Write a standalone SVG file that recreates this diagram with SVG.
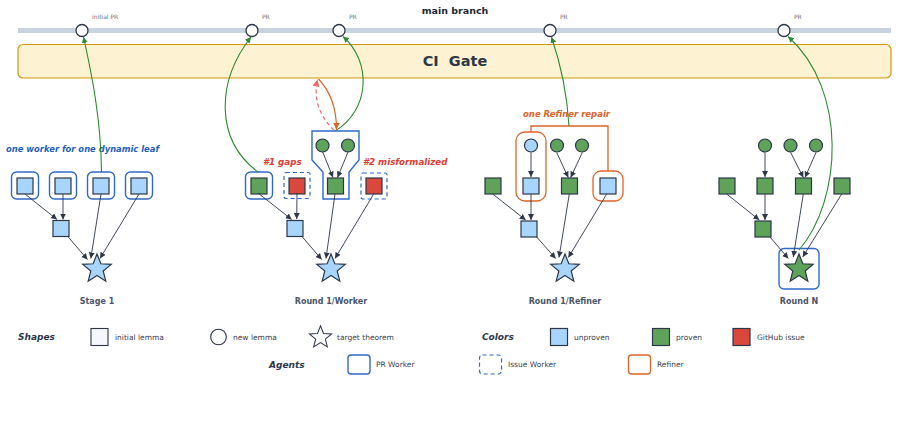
<svg xmlns="http://www.w3.org/2000/svg" xmlns:xlink="http://www.w3.org/1999/xlink" width="899" height="433" viewBox="0 0 899 433">
<style>
text{font-family:"DejaVu Sans","Liberation Sans",sans-serif;}
.sq{stroke:#2d3748;stroke-width:1.2;}
.un{fill:#a8d5fb;}
.pr{fill:#5fa35a;}
.is{fill:#d9473d;}
.nd{stroke:#2d3748;stroke-width:1.2;}
.pw{fill:none;stroke:#2f6ac8;stroke-width:1.4;}
.iw{fill:none;stroke:#2f6ac8;stroke-width:1.2;stroke-dasharray:4 3;}
.rf{fill:none;stroke:#e0632a;stroke-width:1.3;}
.ed{fill:none;stroke:#2d3748;stroke-width:0.9;marker-end:url(#ah);}
.gr{fill:none;stroke:#2e8b2e;stroke-width:1.1;marker-end:url(#ag);}
.cap{font-size:8px;font-weight:bold;fill:#4a5568;text-anchor:middle;}
.lg{font-size:7.5px;fill:#3a4150;}
.lh{font-size:9px;font-weight:bold;font-style:italic;fill:#2d3748;}
.pl{font-size:6px;fill:#6b7280;}
</style>
<defs>
<marker id="ah" markerUnits="userSpaceOnUse" markerWidth="7" markerHeight="7" refX="6" refY="3" orient="auto"><path d="M0,0 L6,3 L0,6 z" fill="#2d3748"/></marker>
<marker id="ag" markerUnits="userSpaceOnUse" markerWidth="7" markerHeight="7" refX="6" refY="3" orient="auto"><path d="M0,0 L6,3 L0,6 z" fill="#2e8b2e"/></marker>
<marker id="ao" markerUnits="userSpaceOnUse" markerWidth="8" markerHeight="8" refX="7" refY="3.5" orient="auto"><path d="M0,0 L7,3.5 L0,7 z" fill="#e0632a"/></marker>
<marker id="ar" markerUnits="userSpaceOnUse" markerWidth="8" markerHeight="8" refX="7" refY="3.5" orient="auto"><path d="M0,0 L7,3.5 L0,7 z" fill="#ec6a6a"/></marker>
<polygon id="star" points="0,-15 3.82,-5.26 14.27,-4.64 6.18,2.01 8.82,12.14 0,6.5 -8.82,12.14 -6.18,2.01 -14.27,-4.64 -3.82,-5.26"/>
</defs>

<!-- main branch -->
<g id="main-branch">
<text x="455" y="14" font-size="9.5" font-weight="bold" fill="#1f2937" text-anchor="middle">main branch</text>
<rect x="18" y="28" width="873" height="5" fill="#c9d3df"/>
</g>
<g id="commit-initial"><circle cx="82" cy="30.5" r="6" fill="#fff" stroke="#2d3748" stroke-width="1.3"/><text class="pl" x="92" y="19">initial PR</text></g>
<g id="commit-2"><circle cx="252" cy="30.5" r="6" fill="#fff" stroke="#2d3748" stroke-width="1.3"/><text class="pl" x="262" y="19">PR</text></g>
<g id="commit-3"><circle cx="339" cy="30.5" r="6" fill="#fff" stroke="#2d3748" stroke-width="1.3"/><text class="pl" x="349" y="19">PR</text></g>
<g id="commit-4"><circle cx="550" cy="30.5" r="6" fill="#fff" stroke="#2d3748" stroke-width="1.3"/><text class="pl" x="560" y="19">PR</text></g>
<g id="commit-5"><circle cx="784" cy="30.5" r="6" fill="#fff" stroke="#2d3748" stroke-width="1.3"/><text class="pl" x="794" y="19">PR</text></g>

<!-- CI gate -->
<g id="ci-gate">
<rect x="18" y="44.5" width="873" height="33.5" rx="5" fill="#fdf2d2" stroke="#d4960f" stroke-width="1.2"/>
<text x="455" y="66" font-size="14.5" font-weight="bold" fill="#2d3748" text-anchor="middle" xml:space="preserve">CI  Gate</text>
</g>

<!-- ===== Stage 1 ===== -->
<g id="stage1">
<text x="6" y="152" font-size="8.4" font-weight="bold" font-style="italic" fill="#1f5fbf">one worker for one dynamic leaf</text>
<g id="s1-l1"><rect class="pw" x="11.5" y="172" width="27" height="27" rx="5"/><rect class="sq un" x="17" y="178" width="16" height="16"/></g>
<g id="s1-l2"><rect class="pw" x="49.5" y="172" width="27" height="27" rx="5"/><rect class="sq un" x="55" y="178" width="16" height="16"/></g>
<g id="s1-l3"><rect class="pw" x="87.5" y="172" width="27" height="27" rx="5"/><rect class="sq un" x="93" y="178" width="16" height="16"/></g>
<g id="s1-l4"><rect class="pw" x="125.5" y="172" width="27" height="27" rx="5"/><rect class="sq un" x="131" y="178" width="16" height="16"/></g>
<g id="s1-mid"><rect class="sq un" x="53" y="220.5" width="16" height="16"/></g>
<g id="s1-star"><use href="#star" x="97" y="269" class="nd un"/></g>
<text class="cap" x="97" y="304">Stage 1</text>
</g>

<!-- ===== Round 1 / Worker ===== -->
<g id="round1-worker">
<text x="263" y="165" font-size="8.7" font-weight="bold" font-style="italic" fill="#dc3b34">#1 gaps</text>
<text x="363" y="165" font-size="8.7" font-weight="bold" font-style="italic" fill="#dc3b34">#2 misformalized</text>
<g id="w-a"><rect class="pw" x="245.5" y="172" width="27" height="27" rx="5"/><rect class="sq pr" x="251" y="178" width="16" height="16"/></g>
<g id="w-b"><rect class="iw" x="284" y="172.5" width="26" height="26" rx="2"/><rect class="sq is" x="289" y="178" width="16" height="16"/></g>
<g id="w-c">
<polygon class="pw" points="312,131 359,131 359,160 349,172 349,199 323,199 323,172 312,160"/>
<circle class="nd pr" cx="322.5" cy="145.5" r="6.5"/>
<circle class="nd pr" cx="348" cy="145.5" r="6.5"/>
<rect class="sq pr" x="327.5" y="178" width="16" height="16"/>
</g>
<g id="w-d"><rect class="iw" x="361" y="173" width="26" height="26" rx="2"/><rect class="sq is" x="366" y="178" width="16" height="16"/></g>
<g id="w-mid"><rect class="sq un" x="287" y="220.5" width="16" height="16"/></g>
<g id="w-star"><use href="#star" x="331" y="269" class="nd un"/></g>
<text class="cap" x="331" y="304">Round 1/Worker</text>
</g>

<!-- ===== Round 1 / Refiner ===== -->
<g id="round1-refiner">
<text x="523" y="117" font-size="8.5" font-weight="bold" font-style="italic" fill="#e0632a">one Refiner repair</text>
<path class="rf" d="M531,132 V126 H608 V171"/>
<g id="r-a"><rect class="rf" x="516" y="132" width="30" height="69" rx="9"/><circle class="nd un" cx="531" cy="145.5" r="6.5"/><rect class="sq un" x="523" y="178" width="16" height="16"/></g>
<circle class="nd pr" cx="557" cy="145.5" r="6.5"/>
<circle class="nd pr" cx="582" cy="145.5" r="6.5"/>
<g id="r-b"><rect class="sq pr" x="561.5" y="178" width="16" height="16"/></g>
<g id="r-c"><rect class="sq pr" x="485" y="178" width="16" height="16"/></g>
<g id="r-d"><rect class="rf" x="593" y="171" width="30" height="30" rx="8"/><rect class="sq un" x="600" y="178" width="16" height="16"/></g>
<g id="r-mid"><rect class="sq un" x="521" y="221" width="16" height="16"/></g>
<g id="r-star"><use href="#star" x="565" y="269" class="nd un"/></g>
<text class="cap" x="565" y="304">Round 1/Refiner</text>
</g>

<!-- ===== Round N ===== -->
<g id="roundN">
<circle class="nd pr" cx="765" cy="145.5" r="6.5"/>
<circle class="nd pr" cx="790.5" cy="145.5" r="6.5"/>
<circle class="nd pr" cx="816" cy="145.5" r="6.5"/>
<g id="n-a"><rect class="sq pr" x="719" y="178" width="16" height="16"/></g>
<g id="n-b"><rect class="sq pr" x="757" y="178" width="16" height="16"/></g>
<g id="n-c"><rect class="sq pr" x="795.5" y="178" width="16" height="16"/></g>
<g id="n-d"><rect class="sq pr" x="834" y="178" width="16" height="16"/></g>
<g id="n-mid"><rect class="sq pr" x="755" y="221" width="16" height="16"/></g>
<g id="n-star"><rect class="pw" x="779" y="248.5" width="40" height="40.5" rx="5"/><use href="#star" x="799" y="269" class="nd pr"/></g>
<text class="cap" x="799" y="304">Round N</text>
</g>

<!-- ===== connectors ===== -->
<g id="connectors">
<!-- stage 1 -->
<line class="ed" x1="25" y1="194" x2="57" y2="219.5"/>
<line class="ed" x1="63" y1="194" x2="63" y2="219.5"/>
<line class="ed" x1="68" y1="236.7" x2="87.5" y2="259.5"/>
<line class="ed" x1="101" y1="194" x2="90.8" y2="258.5"/>
<line class="ed" x1="139" y1="194" x2="100" y2="258.5"/>
<!-- worker -->
<line class="ed" x1="258" y1="193" x2="291.7" y2="219.5"/>
<line class="ed" x1="297" y1="193" x2="296.7" y2="219"/>
<line class="ed" x1="322.7" y1="152" x2="333" y2="177.5"/>
<line class="ed" x1="348" y1="152" x2="337.5" y2="177.5"/>
<line class="ed" x1="302" y1="236.5" x2="321.7" y2="259.5"/>
<line class="ed" x1="335" y1="194" x2="326" y2="258.5"/>
<line class="ed" x1="373.7" y1="194" x2="335" y2="258.5"/>
<!-- refiner -->
<line class="ed" x1="531" y1="152.5" x2="531" y2="177"/>
<line class="ed" x1="556.7" y1="152.5" x2="568.3" y2="177.5"/>
<line class="ed" x1="582.3" y1="152.5" x2="570.7" y2="177.5"/>
<line class="ed" x1="492.7" y1="194" x2="525.7" y2="220"/>
<line class="ed" x1="531" y1="194" x2="531" y2="220"/>
<line class="ed" x1="536.7" y1="237" x2="555.7" y2="258.5"/>
<line class="ed" x1="569.3" y1="194" x2="559" y2="257.5"/>
<line class="ed" x1="606.7" y1="194" x2="568.3" y2="257.5"/>
<!-- round N -->
<line class="ed" x1="765" y1="152.5" x2="765" y2="177"/>
<line class="ed" x1="790.7" y1="152.5" x2="803.3" y2="177.5"/>
<line class="ed" x1="816" y1="152.5" x2="805" y2="177.5"/>
<line class="ed" x1="726.7" y1="194" x2="759.3" y2="220"/>
<line class="ed" x1="765" y1="194" x2="765" y2="220"/>
<line class="ed" x1="770" y1="237" x2="788.3" y2="258.5"/>
<line class="ed" x1="803.3" y1="194" x2="793.3" y2="257"/>
<line class="ed" x1="841.7" y1="194" x2="802.7" y2="257"/>
<!-- PR arrows to main -->
<path class="gr" d="M101.5,172 C101,120 92,75 83.5,37"/>
<path class="gr" d="M258,172 C215,140 216,82 251,37"/>
<path class="gr" d="M335,131 C370,110 372,62 343,36.5"/>
<path class="gr" d="M569,126 C567,92 560,62 551.5,37"/>
<path class="gr" d="M799,250 C842,200 848,90 788,36.5"/>
<!-- CI gate loop -->
<path d="M318.5,79 C331,92 336.5,110 336.5,129.5" fill="none" stroke="#e0632a" stroke-width="1.2" marker-end="url(#ao)"/>
<path d="M334,130.5 C320,116 313,100 317.5,79.5" fill="none" stroke="#ec6a6a" stroke-width="1.2" stroke-dasharray="4 3" marker-end="url(#ar)"/>
</g>

<!-- ===== legend ===== -->
<g id="legend">
<text class="lh" x="18" y="340">Shapes</text>
<rect x="91" y="328.5" width="17" height="17" fill="#f5f7fb" stroke="#2d3748" stroke-width="1.1"/>
<text class="lg" x="115" y="339.5">initial lemma</text>
<circle cx="218.5" cy="337" r="7.8" fill="#fff" stroke="#2d3748" stroke-width="1.1"/>
<text class="lg" x="233" y="339.5">new lemma</text>
<use href="#star" transform="translate(320.5,337.5) scale(0.78)" fill="#fff" stroke="#2d3748" stroke-width="1.3"/>
<text class="lg" x="337" y="339.5">target theorem</text>
<text class="lh" x="482" y="340">Colors</text>
<rect class="sq un" x="550.5" y="328.5" width="17" height="17"/>
<text class="lg" x="574" y="339.5">unproven</text>
<rect class="sq pr" x="652.5" y="328.5" width="17" height="17"/>
<text class="lg" x="676" y="339.5">proven</text>
<rect class="sq is" x="733" y="328.5" width="17" height="17"/>
<text class="lg" x="757" y="339.5">GitHub issue</text>
<text class="lh" x="269" y="367.5">Agents</text>
<rect class="pw" x="348" y="355" width="22" height="19" rx="3"/>
<text class="lg" x="376" y="367">PR Worker</text>
<rect class="iw" x="479.5" y="355" width="22" height="19" rx="3"/>
<text class="lg" x="508" y="367">Issue Worker</text>
<rect class="rf" x="628.5" y="355" width="22" height="19" rx="3"/>
<text class="lg" x="657" y="367">Refiner</text>
</g>
</svg>
